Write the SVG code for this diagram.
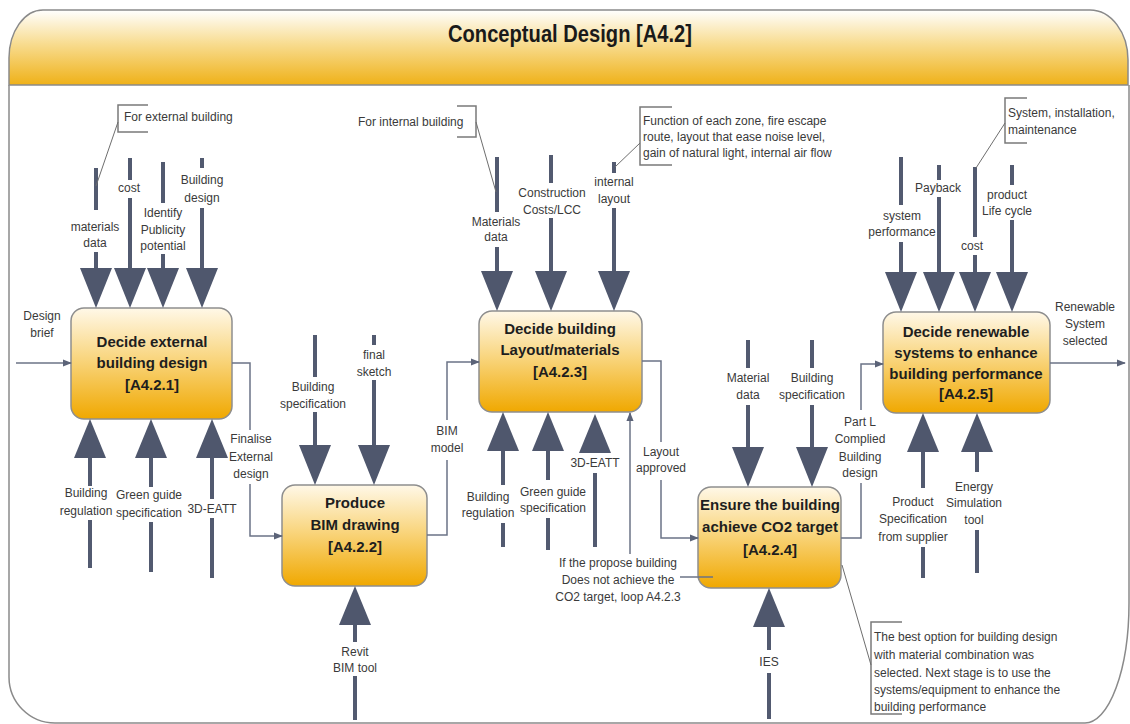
<svg xmlns="http://www.w3.org/2000/svg" xmlns:xlink="http://www.w3.org/1999/xlink" width="1130" height="724" viewBox="0 0 1130 724">
  <style>
    .lbl { font-family: "Liberation Sans", Arial, sans-serif; font-size: 12px; fill: #3a3a3a; text-anchor: middle; }
    .note { font-family: "Liberation Sans", Arial, sans-serif; font-size: 12px; fill: #3a3a3a; text-anchor: start; }
    .ttl { font-family: "Liberation Sans", Arial, sans-serif; font-size: 15px; font-weight: bold; fill: #1e1e1e; text-anchor: middle; }
    .head { font-family: "Liberation Sans", Arial, sans-serif; font-size: 24px; font-weight: bold; fill: #1a1a1a; text-anchor: middle; }
    .box { fill: url(#boxFill); stroke: #8e8e8e; stroke-width: 1.5; }
    .bar { stroke: #525a70; stroke-width: 4; fill: none; }
    .tri { fill: #4f576d; }
    .con { stroke: #6b7386; stroke-width: 1.5; fill: none; }
    .brk { stroke: #7a7a7a; stroke-width: 1.5; fill: none; }
    .lead { stroke: #6e6e6e; stroke-width: 1; fill: none; }
  </style>
  <defs>
    <linearGradient id="boxFill" x1="0" y1="0" x2="0" y2="1">
      <stop offset="0" stop-color="#fff8e8"/>
      <stop offset="0.45" stop-color="#f9d680"/>
      <stop offset="1" stop-color="#f0a800"/>
    </linearGradient>
    <linearGradient id="headFill" x1="0" y1="0" x2="0" y2="1">
      <stop offset="0" stop-color="#ffffff"/>
      <stop offset="0.45" stop-color="#f8dc90"/>
      <stop offset="1" stop-color="#efb118"/>
    </linearGradient>
    <marker id="ah" viewBox="0 0 10 10" refX="9" refY="5" markerWidth="9" markerHeight="9" orient="auto" markerUnits="userSpaceOnUse">
      <path d="M0,1 L10,5 L0,9 Z" fill="#5b6378"/>
    </marker>
    <!-- heavy arrowheads, apex at the origin -->
    <path id="dn" class="tri" d="M-16,-40 L16,-40 L0,0 Z"/>
    <path id="up" class="tri" d="M-16,39 L16,39 L0,0 Z"/>
  </defs>

  <rect width="1130" height="724" fill="#ffffff"/>

  <!-- frame and header -->
  <g id="frame">
    <path d="M9,85 L9,677 A46,46 0 0 0 55,723 L1085,723 A44,120 0 0 0 1129,603 L1129,85" fill="none" stroke="#8a8a8a" stroke-width="1.5"/>
    <path d="M9,85 L9,58 A34,48 0 0 1 43,10 L1090,10 A38,50 0 0 1 1128,60 L1128,85 Z" fill="url(#headFill)" stroke="#8a8a8a" stroke-width="1.5"/>
    <text class="head" x="570" y="42" textLength="244" lengthAdjust="spacingAndGlyphs">Conceptual Design [A4.2]</text>
  </g>

  <!-- activity boxes -->
  <g id="a421">
    <rect class="box" x="71" y="308" width="161" height="111" rx="13"/>
    <text class="ttl" x="152" y="347">Decide external</text>
    <text class="ttl" x="152" y="368">building design</text>
    <text class="ttl" x="152" y="390">[A4.2.1]</text>
  </g>
  <g id="a422">
    <rect class="box" x="282" y="485" width="145" height="101" rx="13"/>
    <text class="ttl" x="355" y="508">Produce</text>
    <text class="ttl" x="355" y="530">BIM drawing</text>
    <text class="ttl" x="355" y="552">[A4.2.2]</text>
  </g>
  <g id="a423">
    <rect class="box" x="479" y="311" width="163" height="101" rx="13"/>
    <text class="ttl" x="560" y="334">Decide building</text>
    <text class="ttl" x="560" y="355">Layout/materials</text>
    <text class="ttl" x="560" y="377">[A4.2.3]</text>
  </g>
  <g id="a424">
    <rect class="box" x="698" y="487" width="143" height="101" rx="13"/>
    <text class="ttl" x="770" y="510">Ensure the building</text>
    <text class="ttl" x="770" y="532">achieve CO2 target</text>
    <text class="ttl" x="770" y="555">[A4.2.4]</text>
  </g>
  <g id="a425">
    <rect class="box" x="883" y="312" width="167" height="101" rx="13"/>
    <text class="ttl" x="966" y="337">Decide renewable</text>
    <text class="ttl" x="966" y="358">systems to enhance</text>
    <text class="ttl" x="966" y="379">building performance</text>
    <text class="ttl" x="966" y="399">[A4.2.5]</text>
  </g>

  <!-- connectors: controls, mechanisms and flows -->
  <g id="connectors">
    <!-- A4.2.1 controls -->
    <path class="bar" d="M96,168 V210 M96,252 V270"/>
    <use xlink:href="#dn" x="96" y="308"/>
    <text class="lbl" x="95" y="231">materials</text>
    <text class="lbl" x="95" y="247">data</text>
    <path class="bar" d="M130,158 V180 M130,198 V270"/>
    <use xlink:href="#dn" x="130" y="308"/>
    <text class="lbl" x="129" y="192">cost</text>
    <path class="bar" d="M163,162 V203 M163,254 V270"/>
    <use xlink:href="#dn" x="163" y="308"/>
    <text class="lbl" x="163" y="217">Identify</text>
    <text class="lbl" x="163" y="234">Publicity</text>
    <text class="lbl" x="163" y="250">potential</text>
    <path class="bar" d="M202,158 V168 M202,208 V270"/>
    <use xlink:href="#dn" x="202" y="308"/>
    <text class="lbl" x="202" y="184">Building</text>
    <text class="lbl" x="202" y="202">design</text>

    <!-- A4.2.1 input and mechanisms -->
    <text class="lbl" x="42" y="320">Design</text>
    <text class="lbl" x="42" y="337">brief</text>
    <path class="con" d="M16,363 H71" marker-end="url(#ah)"/>
    <path class="bar" d="M90,456 V486 M90,520 V568"/>
    <use xlink:href="#up" x="90" y="419"/>
    <text class="lbl" x="86" y="497">Building</text>
    <text class="lbl" x="86" y="515">regulation</text>
    <path class="bar" d="M151,456 V487 M151,522 V572"/>
    <use xlink:href="#up" x="151" y="419"/>
    <text class="lbl" x="149" y="499">Green guide</text>
    <text class="lbl" x="149" y="517">specification</text>
    <path class="bar" d="M212,456 V499 M212,518 V578"/>
    <use xlink:href="#up" x="212" y="419"/>
    <text class="lbl" x="212" y="513">3D-EATT</text>

    <!-- A4.2.1 to A4.2.2 -->
    <path class="con" d="M232,363 H250 V430"/>
    <path class="con" d="M250,484 V536 H282" marker-end="url(#ah)"/>
    <text class="lbl" x="251" y="443">Finalise</text>
    <text class="lbl" x="251" y="461">External</text>
    <text class="lbl" x="251" y="478">design</text>

    <!-- A4.2.2 controls and mechanism -->
    <path class="bar" d="M315,335 V377 M315,412 V447"/>
    <use xlink:href="#dn" x="315" y="485"/>
    <text class="lbl" x="313" y="391">Building</text>
    <text class="lbl" x="313" y="408">specification</text>
    <path class="bar" d="M374,335 V345 M374,380 V447"/>
    <use xlink:href="#dn" x="374" y="485"/>
    <text class="lbl" x="374" y="359">final</text>
    <text class="lbl" x="374" y="376">sketch</text>
    <path class="bar" d="M355,625 V642 M355,676 V720"/>
    <use xlink:href="#up" x="355" y="586"/>
    <text class="lbl" x="355" y="656">Revit</text>
    <text class="lbl" x="355" y="672">BIM tool</text>

    <!-- A4.2.2 to A4.2.3 -->
    <path class="con" d="M427,535 H447 V460"/>
    <path class="con" d="M447,420 V362 H479" marker-end="url(#ah)"/>
    <text class="lbl" x="447" y="435">BIM</text>
    <text class="lbl" x="447" y="452">model</text>

    <!-- A4.2.3 controls -->
    <path class="bar" d="M497,157 V212 M497,247 V274"/>
    <use xlink:href="#dn" x="497" y="311"/>
    <text class="lbl" x="496" y="226">Materials</text>
    <text class="lbl" x="496" y="241">data</text>
    <path class="bar" d="M551,155 V183 M551,218 V274"/>
    <use xlink:href="#dn" x="551" y="311"/>
    <text class="lbl" x="552" y="197">Construction</text>
    <text class="lbl" x="552" y="214">Costs/LCC</text>
    <path class="bar" d="M614,162 V173 M614,208 V274"/>
    <use xlink:href="#dn" x="614" y="311"/>
    <text class="lbl" x="614" y="186">internal</text>
    <text class="lbl" x="614" y="203">layout</text>

    <!-- A4.2.3 mechanisms -->
    <path class="bar" d="M503,450 V485 M503,523 V547"/>
    <use xlink:href="#up" x="503" y="412"/>
    <text class="lbl" x="488" y="501">Building</text>
    <text class="lbl" x="488" y="517">regulation</text>
    <path class="bar" d="M548,450 V480 M548,518 V550"/>
    <use xlink:href="#up" x="548" y="412"/>
    <text class="lbl" x="553" y="496">Green guide</text>
    <text class="lbl" x="553" y="512">specification</text>
    <path class="bar" d="M595,473 V547"/>
    <use xlink:href="#up" x="595" y="414"/>
    <text class="lbl" x="595" y="467">3D-EATT</text>

    <!-- A4.2.3 to A4.2.4 -->
    <path class="con" d="M642,361 H661 V442"/>
    <path class="con" d="M661,480 V538 H698" marker-end="url(#ah)"/>
    <text class="lbl" x="661" y="456">Layout</text>
    <text class="lbl" x="661" y="472">approved</text>

    <!-- loop back from A4.2.4 to A4.2.3 -->
    <path class="con" d="M713,577 H680"/>
    <path class="con" d="M630,554 V413" marker-end="url(#ah)"/>
    <text class="lbl" x="618" y="567">If the propose building</text>
    <text class="lbl" x="618" y="584">Does not achieve the</text>
    <text class="lbl" x="618" y="601">CO2 target, loop A4.2.3</text>

    <!-- A4.2.4 controls and mechanism -->
    <path class="bar" d="M748,340 V368 M748,405 V449"/>
    <use xlink:href="#dn" x="748" y="487"/>
    <text class="lbl" x="748" y="382">Material</text>
    <text class="lbl" x="748" y="399">data</text>
    <path class="bar" d="M812,340 V368 M812,405 V449"/>
    <use xlink:href="#dn" x="812" y="487"/>
    <text class="lbl" x="812" y="382">Building</text>
    <text class="lbl" x="812" y="399">specification</text>
    <path class="bar" d="M769,627 V650 M769,673 V719"/>
    <use xlink:href="#up" x="769" y="588"/>
    <text class="lbl" x="769" y="666">IES</text>

    <!-- A4.2.4 to A4.2.5 -->
    <path class="con" d="M841,538 H861 V483"/>
    <path class="con" d="M861,410 V364 H883" marker-end="url(#ah)"/>
    <text class="lbl" x="860" y="426">Part L</text>
    <text class="lbl" x="860" y="443">Complied</text>
    <text class="lbl" x="860" y="461">Building</text>
    <text class="lbl" x="860" y="477">design</text>

    <!-- A4.2.5 controls -->
    <path class="bar" d="M901,157 V205 M901,242 V274"/>
    <use xlink:href="#dn" x="901" y="312"/>
    <text class="lbl" x="902" y="220">system</text>
    <text class="lbl" x="902" y="236">performance</text>
    <path class="bar" d="M939,165 V180 M939,197 V274"/>
    <use xlink:href="#dn" x="939" y="312"/>
    <text class="lbl" x="938" y="192">Payback</text>
    <path class="bar" d="M975,167 V237 M975,255 V274"/>
    <use xlink:href="#dn" x="975" y="312"/>
    <text class="lbl" x="972" y="250">cost</text>
    <path class="bar" d="M1012,165 V185 M1012,220 V274"/>
    <use xlink:href="#dn" x="1012" y="312"/>
    <text class="lbl" x="1007" y="199">product</text>
    <text class="lbl" x="1007" y="215">Life cycle</text>

    <!-- A4.2.5 mechanisms and output -->
    <path class="bar" d="M923,450 V488 M923,547 V578"/>
    <use xlink:href="#up" x="923" y="413"/>
    <text class="lbl" x="913" y="506">Product</text>
    <text class="lbl" x="913" y="523">Specification</text>
    <text class="lbl" x="913" y="541">from supplier</text>
    <path class="bar" d="M977,450 V472 M977,530 V573"/>
    <use xlink:href="#up" x="977" y="413"/>
    <text class="lbl" x="974" y="491">Energy</text>
    <text class="lbl" x="974" y="507">Simulation</text>
    <text class="lbl" x="974" y="524">tool</text>
    <path class="con" d="M1050,363 H1125" marker-end="url(#ah)"/>
    <text class="lbl" x="1085" y="311">Renewable</text>
    <text class="lbl" x="1085" y="328">System</text>
    <text class="lbl" x="1085" y="345">selected</text>
  </g>

  <!-- annotations -->
  <g id="note-external">
    <path class="brk" d="M148,105 H118 V132 H148"/>
    <path class="lead" d="M118,122 L96,186"/>
    <text class="note" x="124" y="121">For external building</text>
  </g>
  <g id="note-internal">
    <path class="brk" d="M457,106 H476 V137 H457"/>
    <path class="lead" d="M476,122 L496,192"/>
    <text class="note" x="358" y="126">For internal building</text>
  </g>
  <g id="note-layout">
    <path class="brk" d="M672,107 H640 V165 H672"/>
    <path class="lead" d="M640,143 L615,167"/>
    <text class="note" x="643" y="125">Function of each zone, fire escape</text>
    <text class="note" x="643" y="141">route, layout that ease noise level,</text>
    <text class="note" x="643" y="157">gain of natural light, internal air flow</text>
  </g>
  <g id="note-system">
    <path class="brk" d="M1027,98 H1005 V143 H1027"/>
    <path class="lead" d="M1005,123 L976,168"/>
    <text class="note" x="1008" y="117">System, installation,</text>
    <text class="note" x="1008" y="134">maintenance</text>
  </g>
  <g id="note-result">
    <path class="brk" d="M902,622 H871 V714 H902"/>
    <path class="lead" d="M842,565 L871,665"/>
    <text class="note" x="874" y="641">The best option for building design</text>
    <text class="note" x="874" y="659">with material combination was</text>
    <text class="note" x="874" y="677">selected. Next stage is to use the</text>
    <text class="note" x="874" y="694">systems/equipment to enhance the</text>
    <text class="note" x="874" y="711">building performance</text>
  </g>
</svg>
